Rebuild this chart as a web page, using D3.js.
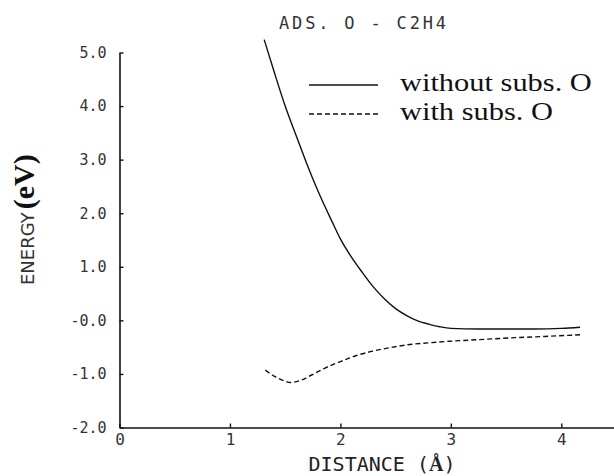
<!DOCTYPE html>
<meta charset="utf-8">
<script src="https://d3js.org/d3.v7.min.js"></script>
<style>
    body { margin: 0; background: #fff; }
    svg { display: block; }
    .plotter { font-family: "DejaVu Sans Mono", monospace; }
</style>
<body>
<svg width="614" height="476"></svg>
<script>
    // values
    var distNoSubs = [1.31, 1.4, 1.5, 1.614, 1.7, 1.8, 1.93, 2.0, 2.1, 2.2, 2.3, 2.4, 2.5, 2.6, 2.7, 2.8, 2.9, 3.0, 3.25, 3.5, 3.75, 4.0, 4.17];
    var energyNoSubs = [5.24, 4.64, 4.0, 3.37, 2.9, 2.4, 1.82, 1.52, 1.18, 0.89, 0.62, 0.4, 0.22, 0.09, -0.01, -0.07, -0.12, -0.15, -0.16, -0.16, -0.16, -0.15, -0.13];

    var distSubs = [1.32, 1.4, 1.48, 1.55, 1.64, 1.74, 1.86, 2.0, 2.14, 2.28, 2.45, 2.63, 2.8, 2.99, 3.25, 3.52, 3.85, 4.17];
    var energySubs = [-0.93, -1.04, -1.12, -1.16, -1.12, -1.02, -0.89, -0.77, -0.66, -0.58, -0.51, -0.45, -0.42, -0.39, -0.36, -0.33, -0.3, -0.27];

    var xTicks = [0, 1, 2, 3, 4];
    var xTickLabels = ['0', '1', '2', '3', '4'];
    var yTicks = [-2, -1, 0, 1, 2, 3, 4, 5];
    var yTickLabels = ['-2.0', '-1.0', '-0.0', '1.0', '2.0', '3.0', '4.0', '5.0'];

    var legendNames = ['without subs. O', 'with subs. O'];

    var x = d3.scaleLinear()
        .domain([0, 4.5])
        .range([119.5, 616.5]);
    var y = d3.scaleLinear()
        .domain([-2, 5])
        .range([427.5, 52.5]);

    var svg = d3.select('svg');

    // axes: ticks point inward like the old plotter
    var xAxis = d3.axisBottom(x)
        .tickValues(xTicks)
        .tickFormat(function(d, i) { return xTickLabels[i]; })
        .tickSize(-4)
        .tickSizeOuter(0)
        .tickPadding(6);
    var yAxis = d3.axisLeft(y)
        .tickValues(yTicks)
        .tickFormat(function(d, i) { return yTickLabels[i]; })
        .tickSize(-4)
        .tickSizeOuter(0)
        .tickPadding(13);

    var gx = svg.append('g')
        .attr('transform', 'translate(0,' + y(-2) + ')')
        .call(xAxis);
    var gy = svg.append('g')
        .attr('transform', 'translate(' + x(0) + ',0)')
        .call(yAxis);

    [gx, gy].forEach(function(g) {
        g.select('.domain').attr('stroke', '#111').attr('stroke-width', 1.6);
        g.selectAll('.tick line').attr('stroke', '#111').attr('stroke-width', 1.4);
        g.selectAll('.tick text')
            .attr('class', 'plotter')
            .attr('font-size', 15)
            .attr('fill', '#333');
    });
    gx.selectAll('.tick text').attr('font-size', 16);

    // curves
    var line = d3.line()
        .x(function(d) { return x(d[0]); })
        .y(function(d) { return y(d[1]); })
        .curve(d3.curveMonotoneX);

    svg.append('path')
        .datum(d3.zip(distNoSubs, energyNoSubs))
        .attr('d', line)
        .attr('fill', 'none')
        .attr('stroke', '#111')
        .attr('stroke-width', 1.4);

    svg.append('path')
        .datum(d3.zip(distSubs, energySubs))
        .attr('d', line)
        .attr('fill', 'none')
        .attr('stroke', '#111')
        .attr('stroke-width', 1.4)
        .attr('stroke-dasharray', '5,3');

    // legend (Times-like, a bit wide)
    var legend = svg.append('g');
    legendNames.forEach(function(name, i) {
        var ly = 85 + i * 29;
        legend.append('line')
            .attr('x1', 309).attr('x2', 378)
            .attr('y1', ly).attr('y2', ly)
            .attr('stroke', '#111')
            .attr('stroke-width', 1.4)
            .attr('stroke-dasharray', i == 1 ? '5,3' : null);
        var t = legend.append('text')
            .attr('x', 400)
            .attr('y', ly + 6)
            .attr('font-family', '"Liberation Serif", serif')
            .attr('font-size', 26)
            .attr('fill', '#111')
            .text(name);
        var w = t.node().getComputedTextLength();
        t.attr('textLength', w * 1.17).attr('lengthAdjust', 'spacingAndGlyphs');
    });

    // titles
    svg.append('text')
        .attr('class', 'plotter')
        .attr('x', 279)
        .attr('y', 29)
        .attr('font-size', 17)
        .attr('fill', '#333')
        .attr('textLength', 167)
        .text('ADS. O - C2H4');

    var xt = svg.append('text')
        .attr('class', 'plotter')
        .attr('x', 382)
        .attr('y', 471)
        .attr('text-anchor', 'middle')
        .attr('font-size', 20)
        .attr('fill', '#222');
    xt.append('tspan').text('DISTANCE (');
    xt.append('tspan')
        .attr('font-family', '"Liberation Serif", serif')
        .attr('font-weight', 'bold')
        .text('Å');
    xt.append('tspan').text(')');

    var yt = svg.append('text')
        .attr('transform', 'translate(34,285) rotate(-90)');
    yt.append('tspan')
        .attr('font-family', '"DejaVu Sans", sans-serif')
        .attr('font-size', 18)
        .attr('fill', '#333')
        .text('ENERGY');
    yt.append('tspan')
        .attr('dx', 3)
        .attr('font-family', '"Liberation Serif", serif')
        .attr('font-weight', 'bold')
        .attr('font-size', 30)
        .attr('fill', '#111')
        .text('(eV)');
</script>
</body>
